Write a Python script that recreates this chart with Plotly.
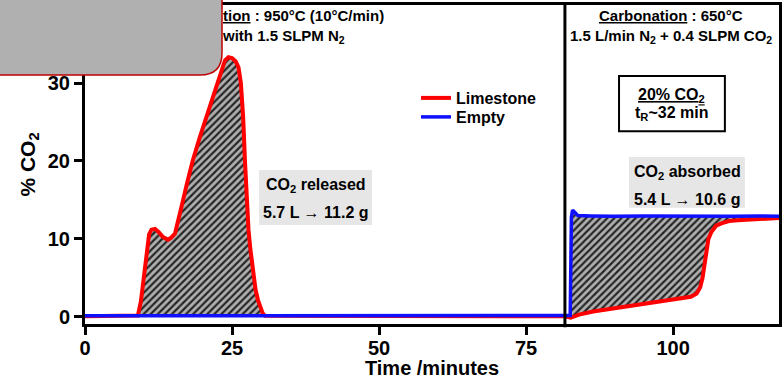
import plotly.graph_objects as go

# ---------------- data ----------------
calc_time = [0, 9.0, 9.5, 9.9, 10.5, 10.9, 11.3, 11.9, 12.5, 13.2, 14.1, 14.7, 15.3, 15.9, 16.4, 17.3, 18.3,
             19.5, 20.7, 21.7, 22.4, 23.2, 23.8, 24.4, 25.0, 25.6, 26.1, 26.5, 26.9, 27.2, 27.5, 27.8, 28.1,
             28.4, 28.7, 29.0, 29.4, 29.8, 30.2, 30.6, 81.6]
calc_limestone = [0.1, 0.2, 2.0, 4.7, 9.0, 10.6, 11.2, 11.3, 10.9, 10.3, 9.9, 10.2, 10.7, 12.3, 14.1, 17.0, 20.0,
                  23.0, 25.8, 28.2, 29.8, 31.8, 32.9, 33.3, 33.2, 32.8, 32.0, 30.0, 25.5, 20.0, 15.0, 11.2, 8.8,
                  6.9, 5.0, 3.5, 2.2, 1.2, 0.5, 0.15, 0.1]

empty_time = [0, 81.6, 82.5, 82.7, 82.9, 83.3, 83.8, 86, 90, 95, 100, 105, 110, 115, 118]
empty_co2 = [0.15, 0.15, 0.2, 12.8, 13.7, 13.4, 13.0, 12.95, 12.9, 12.95, 12.9, 12.95, 12.9, 12.95, 12.9]

carb_time = [82.6, 84, 86.4, 89, 92.1, 95, 97.7, 100.5, 103.0, 104.0, 104.6, 105.0, 105.3, 105.6, 106.0,
             106.5, 107.3, 108.2, 109.5, 111, 113, 115.5, 118]
carb_limestone = [-0.1, 0.3, 0.7, 1.0, 1.3, 1.6, 2.0, 2.3, 2.6, 3.0, 3.8, 5.0, 6.8, 8.6, 10.0,
                  10.9, 11.7, 12.0, 12.3, 12.4, 12.5, 12.7, 12.7]

x_ticks = [0, 25, 50, 75, 100]
y_ticks = [0, 10, 20, 30]
switch_time = 81.6

RED = "#ff0000"
BLUE = "#1010ff"
FONT = "Liberation Sans, Arial, sans-serif"
hatch = dict(shape="/", fgcolor="#262626", bgcolor="#b0b0b0", size=5, solidity=0.45, fillmode="replace")

ci = empty_time.index(switch_time)

fig = go.Figure()

# hatched area: CO2 released
fig.add_trace(go.Scatter(x=calc_time, y=calc_limestone, mode="lines", line=dict(width=0),
                         fill="tozeroy", fillpattern=hatch, showlegend=False, hoverinfo="skip"))
# hatched area: CO2 absorbed (between empty and limestone)
fig.add_trace(go.Scatter(x=empty_time[ci:], y=empty_co2[ci:], mode="lines", line=dict(width=0),
                         showlegend=False, hoverinfo="skip"))
fig.add_trace(go.Scatter(x=carb_time, y=carb_limestone, mode="lines", line=dict(width=0),
                         fill="tonexty", fillpattern=hatch, showlegend=False, hoverinfo="skip"))

# lines
fig.add_trace(go.Scatter(x=calc_time + carb_time, y=calc_limestone + carb_limestone, mode="lines",
                         name="Limestone", line=dict(color=RED, width=4), legend="legend"))
fig.add_trace(go.Scatter(x=empty_time, y=empty_co2, mode="lines",
                         name="Empty", line=dict(color=BLUE, width=3.5), legend="legend2"))

L, R, T, B = 85, 5, 5, 55
W, H = 784, 379
pw, ph = W - L - R, H - T - B


def px_x(p):
    return (p - L) / pw


def px_y(p):
    return (H - B - p) / ph


# rounded gray overlay box (top-left)
x0, x1, y0, y1, r = -20, 222, -20, 75, 22
path = (f"M {px_x(x0)},{px_y(y0)} L {px_x(x1)},{px_y(y0)} L {px_x(x1)},{px_y(y1 - r)} "
        f"Q {px_x(x1)},{px_y(y1)} {px_x(x1 - r)},{px_y(y1)} L {px_x(x0)},{px_y(y1)} Z")

shapes = [
    dict(type="line", xref="x", yref="paper", x0=switch_time, x1=switch_time, y0=-0.01, y1=1,
         line=dict(color="black", width=3), layer="above"),
    dict(type="rect", xref="x", yref="y", x0=29.6, x1=48.8, y0=11.8, y1=18.85,
         fillcolor="#e6e6e6", line=dict(width=0), layer="above"),
    dict(type="rect", xref="x", yref="y", x0=92.5, x1=112.2, y0=14.0, y1=20.5,
         fillcolor="#e6e6e6", line=dict(width=0), layer="above"),
    dict(type="rect", xref="x", yref="y", x0=90.8, x1=108.8, y0=23.8, y1=30.9,
         fillcolor="white", line=dict(color="black", width=2), layer="above"),
    dict(type="path", xref="paper", yref="paper", path=path, fillcolor="#b0b0b0",
         line=dict(color="#c00000", width=1.5), layer="above"),
]


def ann(text, x, y, size=15, xanchor="center", xref="x", yref="y"):
    return dict(text=text, x=x, y=y, xref=xref, yref=yref, xanchor=xanchor, yanchor="middle",
                showarrow=False, font=dict(family=FONT, size=size, color="black", weight="bold"))


annotations = [
    ann("CO<sub>2</sub> released", 39.2, 16.8, 16),
    ann("5.7 L → 11.2 g", 39.2, 13.4, 16),
    ann("CO<sub>2</sub> absorbed", 102.4, 18.5, 16),
    ann("5.4 L → 10.6 g", 102.4, 15.1, 16),
    ann("<u>20% CO<sub>2</sub></u>", 99.8, 28.4, 16),
    ann("t<sub>R</sub>~32 min", 99.8, 26.1, 16),
    ann("<u>Carbonation</u> : 650°C", 99.7, 38.7, 15),
    ann("1.5 L/min N<sub>2</sub> + 0.4 SLPM CO<sub>2</sub>", 99.7, 35.9, 15),
    ann("<u>tion</u> : 950°C (10°C/min)", 23.1, 38.7, 15, xanchor="left"),
    ann("with 1.5 SLPM N<sub>2</sub>", 23.0, 35.9, 15, xanchor="left"),
]

axis_font = dict(family=FONT, size=20, color="black", weight="bold")
leg_font = dict(family=FONT, size=16, color="black", weight="bold")

fig.update_layout(
    width=W, height=H,
    margin=dict(l=L, r=R, t=T, b=B, autoexpand=False),
    paper_bgcolor="white", plot_bgcolor="white",
    font=dict(family=FONT, color="black", weight="bold"),
    shapes=shapes, annotations=annotations,
    legend=dict(x=px_x(416), y=px_y(81), xanchor="left", yanchor="top", font=leg_font,
                bgcolor="rgba(0,0,0,0)", borderwidth=0),
    legend2=dict(x=px_x(416), y=px_y(100), xanchor="left", yanchor="top", font=leg_font,
                 bgcolor="rgba(0,0,0,0)", borderwidth=0),
    xaxis=dict(range=[0, 118], tickvals=x_ticks, showgrid=False, zeroline=False,
               showline=True, linecolor="black", linewidth=3, mirror=True,
               ticks="outside", ticklen=8, tickwidth=3, tickcolor="black",
               tickfont=axis_font, ticklabelstandoff=-4,
               title=dict(text="Time /minutes", font=axis_font, standoff=6)),
    yaxis=dict(range=[-0.9, 40], tickvals=y_ticks, showgrid=False, zeroline=False,
               showline=True, linecolor="black", linewidth=3, mirror=True,
               ticks="outside", ticklen=8, tickwidth=3, tickcolor="black",
               tickfont=axis_font,
               title=dict(text="% CO<sub>2</sub>", font=dict(family=FONT, size=21, color="black", weight="bold"),
                          standoff=7)),
)

fig.write_html("out.html")
